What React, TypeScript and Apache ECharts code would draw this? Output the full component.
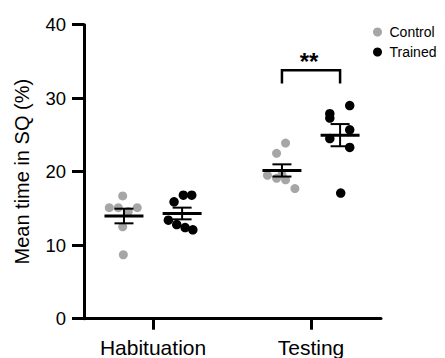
import React, { useEffect, useRef } from "react";
import * as echarts from "echarts";

const categories = ["Habituation", "Testing"];
const yTicks = [0, 10, 20, 30, 40];

// Values (Mean time in SQ, %) per group
const controlHabituation = [16.7, 15.1, 15.1, 15.1, 14.6, 12.5, 8.7];
const trainedHabituation = [16.8, 16.8, 15.9, 13.4, 12.8, 12.4, 12.1];
const controlTesting = [23.9, 22.5, 19.6, 19.5, 19.1, 18.9, 17.7];
const trainedTesting = [29.0, 27.9, 27.3, 25.7, 24.5, 23.3, 17.1];

// horizontal scatter jitter (fraction of category spacing)
const jitterControlHab = [-0.008, -0.093, -0.036, 0.084, 0.027, -0.008, -0.004];
const jitterTrainedHab = [0.008, 0.061, -0.051, -0.087, -0.034, 0.019, 0.068];
const jitterControlTest = [0.023, -0.034, 0.0, -0.092, -0.034, 0.023, 0.082];
const jitterTrainedTest = [0.061, -0.065, -0.065, 0.061, -0.065, 0.061, 0.004];

const groupOffset = 0.184;
const FONT = "'Liberation Sans', Arial, Helvetica, sans-serif";
const GRAY = "#a6a6a8";

function mean(a: number[]) {
  return a.reduce((s, v) => s + v, 0) / a.length;
}
function sem(a: number[]) {
  const m = mean(a);
  const v = a.reduce((s, x) => s + (x - m) * (x - m), 0) / (a.length - 1);
  return Math.sqrt(v) / Math.sqrt(a.length);
}

function points(vals: number[], jit: number[], center: number) {
  return vals.map((v, i) => [center + jit[i], v]);
}

export default function App() {
  const ref = useRef<HTMLDivElement>(null);
  useEffect(() => {
    if (!ref.current) return;
    const chart = echarts.init(ref.current, undefined, { renderer: "svg" });

    const groups = [
      { vals: controlHabituation, x: 0 - groupOffset },
      { vals: trainedHabituation, x: 0 + groupOffset },
      { vals: controlTesting, x: 1 - groupOffset },
      { vals: trainedTesting, x: 1 + groupOffset },
    ];
    const summary = groups.map((g) => {
      const m = mean(g.vals);
      const s = sem(g.vals);
      return [g.x, m, m - s, m + s];
    });

    const sigLegLow = 32.0;
    const sigTop = 33.8;

    chart.setOption({
      animation: false,
      legend: {
        orient: "vertical",
        left: 373,
        top: 25,
        padding: 0,
        itemWidth: 14,
        itemHeight: 9,
        itemGap: 6,
        icon: "circle",
        data: ["Control", "Trained"],
        textStyle: { fontFamily: FONT, fontSize: 14, lineHeight: 14, color: "#000" },
      },
      grid: { left: 84, right: 64, top: 24.7, bottom: 39.3 },
      xAxis: {
        type: "value",
        min: -0.437,
        max: 1.443,
        axisLine: { show: true, onZero: false, lineStyle: { color: "#000", width: 3 } },
        axisTick: { show: true, customValues: [0, 1], length: 11, lineStyle: { color: "#000", width: 3 } },
        axisLabel: {
          customValues: [0, 1],
          formatter: (v: number) => categories[Math.round(v)] ?? "",
          fontFamily: FONT,
          fontSize: 21,
          color: "#000",
          margin: 18,
        },
        splitLine: { show: false },
      },
      yAxis: {
        type: "value",
        min: 0,
        max: 40,
        interval: 10,
        name: "Mean time in SQ (%)",
        nameLocation: "middle",
        nameGap: 52,
        nameTextStyle: { fontFamily: FONT, fontSize: 20, color: "#000" },
        axisLine: { show: true, onZero: false, lineStyle: { color: "#000", width: 3 } },
        axisTick: { show: true, length: 12, lineStyle: { color: "#000", width: 3 } },
        axisLabel: {
          fontFamily: FONT,
          fontSize: 18.5,
          color: "#000",
          margin: 18,
          formatter: (v: number) => (yTicks.includes(v) ? String(v) : ""),
        },
        splitLine: { show: false },
      },
      series: [
        {
          name: "Control",
          type: "scatter",
          symbol: "circle",
          symbolSize: 9,
          itemStyle: { color: GRAY, opacity: 1 },
          data: [
            ...points(controlHabituation, jitterControlHab, 0 - groupOffset),
            ...points(controlTesting, jitterControlTest, 1 - groupOffset),
          ],
          z: 2,
        },
        {
          name: "Trained",
          type: "scatter",
          symbol: "circle",
          symbolSize: 9.5,
          itemStyle: { color: "#000", opacity: 1 },
          data: [
            ...points(trainedHabituation, jitterTrainedHab, 0 + groupOffset),
            ...points(trainedTesting, jitterTrainedTest, 1 + groupOffset),
          ],
          z: 2,
        },
        {
          name: "meanSem",
          type: "custom",
          z: 3,
          data: summary,
          renderItem: (params: any, api: any) => {
            const x = api.value(0);
            const c = api.coord([x, api.value(1)]);
            const lo = api.coord([x, api.value(2)]);
            const hi = api.coord([x, api.value(3)]);
            const st = { stroke: "#000", lineWidth: 2 };
            return {
              type: "group",
              children: [
                { type: "line", shape: { x1: c[0] - 19.5, y1: c[1], x2: c[0] + 19.5, y2: c[1] }, style: { stroke: "#000", lineWidth: 3 } },
                { type: "line", shape: { x1: c[0], y1: lo[1], x2: c[0], y2: hi[1] }, style: st },
                { type: "line", shape: { x1: c[0] - 9.5, y1: lo[1], x2: c[0] + 9.5, y2: lo[1] }, style: st },
                { type: "line", shape: { x1: c[0] - 9.5, y1: hi[1], x2: c[0] + 9.5, y2: hi[1] }, style: st },
              ],
            };
          },
        },
        {
          name: "significance",
          type: "custom",
          z: 3,
          data: [[1 - groupOffset, 1 + groupOffset, sigLegLow, sigTop]],
          renderItem: (params: any, api: any) => {
            const a = api.coord([api.value(0), api.value(3)]);
            const b = api.coord([api.value(1), api.value(3)]);
            const aLow = api.coord([api.value(0), api.value(2)]);
            return {
              type: "group",
              children: [
                {
                  type: "polyline",
                  shape: { points: [[a[0], aLow[1]], [a[0], a[1]], [b[0], b[1]], [b[0], aLow[1]]] },
                  style: { stroke: "#000", lineWidth: 2.5, fill: "none" },
                },
                {
                  type: "text",
                  x: (a[0] + b[0]) / 2 - 2,
                  y: a[1] + 3,
                  style: {
                    text: "**",
                    fontFamily: FONT,
                    fontSize: 24,
                    fontWeight: "bold",
                    fill: "#000",
                    align: "center",
                    verticalAlign: "bottom",
                  },
                },
              ],
            };
          },
        },
      ],
    });
    return () => chart.dispose();
  }, []);
  return <div ref={ref} style={{ width: 445, height: 358, position: "absolute", left: 0, top: 0 }} />;
}
